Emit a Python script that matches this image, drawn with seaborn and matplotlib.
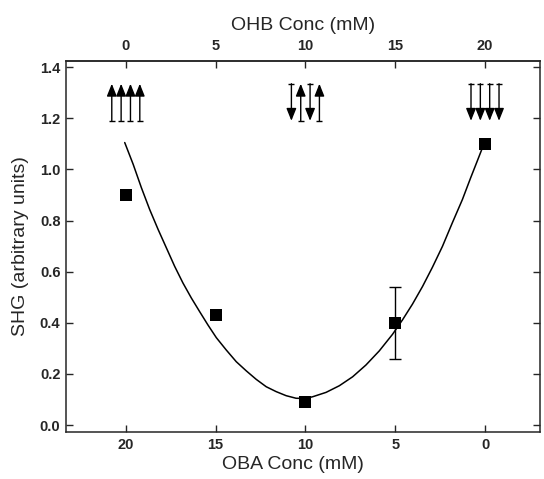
import matplotlib
matplotlib.use("Agg")
import matplotlib.pyplot as plt
import seaborn as sns
import pandas as pd

# measured points (OBA concentration, SHG)
oba_conc = [20, 15, 10, 5, 0]
shg = [0.90, 0.43, 0.09, 0.40, 1.10]
shg_err = [0.0, 0.0, 0.0, 0.14, 0.0]

# guide curve
curve_oba = [20.06, 19.59, 19.13, 18.67, 18.2, 17.74, 17.28, 16.82, 16.35, 15.89,
             15.43, 14.96, 14.41, 13.85, 13.29, 12.74, 12.18, 11.63, 11.07, 10.52,
             10.0, 9.59, 8.85, 8.11, 7.37, 6.63, 5.89, 5.15, 4.59, 4.04, 3.48,
             2.93, 2.37, 1.82, 1.26, 0.80, 0.43, 0.18, 0.05]
curve_shg = [1.105, 1.020, 0.928, 0.843, 0.765, 0.693, 0.621, 0.556, 0.497, 0.444,
             0.392, 0.342, 0.294, 0.248, 0.212, 0.179, 0.150, 0.131, 0.115, 0.105,
             0.104, 0.111, 0.128, 0.154, 0.189, 0.235, 0.290, 0.355, 0.412, 0.473,
             0.542, 0.617, 0.699, 0.791, 0.882, 0.967, 1.033, 1.078, 1.105]

# dipole sketches above the curve, at OHB conc 0, 10, 20
arrow_ohb = [0, 10, 20]
arrow_dirs = [["up", "up", "up", "up"],
              ["down", "up", "down", "up"],
              ["down", "down", "down", "down"]]
arrow_low, arrow_high = 1.19, 1.335

ohb_ticks = [0, 5, 10, 15, 20]
oba_ticks = [20, 15, 10, 5, 0]
y_ticks = [0.0, 0.2, 0.4, 0.6, 0.8, 1.0, 1.2, 1.4]

sns.set_style("ticks")
plt.rcParams['font.family'] = ['Liberation Sans', 'DejaVu Sans']

fig = plt.figure(figsize=(5.44, 4.79), dpi=100)
ax = fig.add_axes([0.1213, 0.0981, 0.8713, 0.7746])

curve = pd.DataFrame({'oba': curve_oba, 'shg': curve_shg})
sns.lineplot(data=curve, x='oba', y='shg', color='black', lw=1.1, sort=False,
             estimator=None, ax=ax)

points = pd.DataFrame({'oba': oba_conc, 'shg': shg, 'err': shg_err})
with_err = points[points['err'] > 0]
ax.errorbar(with_err['oba'], with_err['shg'], yerr=with_err['err'], fmt='none',
            ecolor='black', elinewidth=1.0, capsize=4, capthick=1.0, zorder=3)
sns.scatterplot(data=points, x='oba', y='shg', marker='s', s=75, color='black',
                edgecolor='black', linewidth=0, ax=ax, zorder=4)

# arrows (drawn in OBA coordinates, OBA = 20 - OHB)
spacing = 0.52
for ohb, dirs in zip(arrow_ohb, arrow_dirs):
    centre = 20 - ohb
    n = len(dirs)
    for i, d in enumerate(dirs):
        xa = centre - (i - (n - 1) / 2) * spacing
        tail, head = (arrow_low, arrow_high) if d == "up" else (arrow_high, arrow_low)
        ax.annotate('', xy=(xa, head), xytext=(xa, tail),
                    arrowprops=dict(arrowstyle='-|>,head_length=0.75,head_width=0.3',
                                    color='black', lw=1.0, shrinkA=0, shrinkB=0,
                                    mutation_scale=10))
        ax.plot([xa], [tail], marker='_', ms=5, mew=1.0, color='black')

ax.set_xlim(23.33, -3.06)
ax.set_ylim(-0.027, 1.424)
ax.set_xticks(oba_ticks)
ax.set_xticklabels([str(t) for t in oba_ticks])
ax.set_yticks(y_ticks)
ax.set_yticklabels([f"{t:.1f}" for t in y_ticks])
ax.set_xlabel("OBA Conc (mM)", fontsize=14)
ax.xaxis.set_label_coords(0.479, -0.065)
ax.set_ylabel("SHG (arbitrary units)", fontsize=14, labelpad=8)
ax.tick_params(direction='in', length=5, width=1.0, labelsize=10.5, pad=4,
               right=True, labelright=False, top=False)
for lab in ax.get_xticklabels() + ax.get_yticklabels():
    lab.set_fontweight('bold')
for sp in ax.spines.values():
    sp.set_linewidth(1.1)
    sp.set_visible(True)

top = ax.secondary_xaxis('top', functions=(lambda x: 20 - x, lambda x: 20 - x))
top.set_xticks(ohb_ticks)
top.set_xticklabels([str(t) for t in ohb_ticks])
top.set_xlabel("OHB Conc (mM)", fontsize=14, labelpad=6)
top.tick_params(direction='in', length=5, width=1.0, labelsize=10.5, pad=6)
for lab in top.get_xticklabels():
    lab.set_fontweight('bold')
top.spines['top'].set_linewidth(1.1)

fig.savefig("out.png", dpi=100)
